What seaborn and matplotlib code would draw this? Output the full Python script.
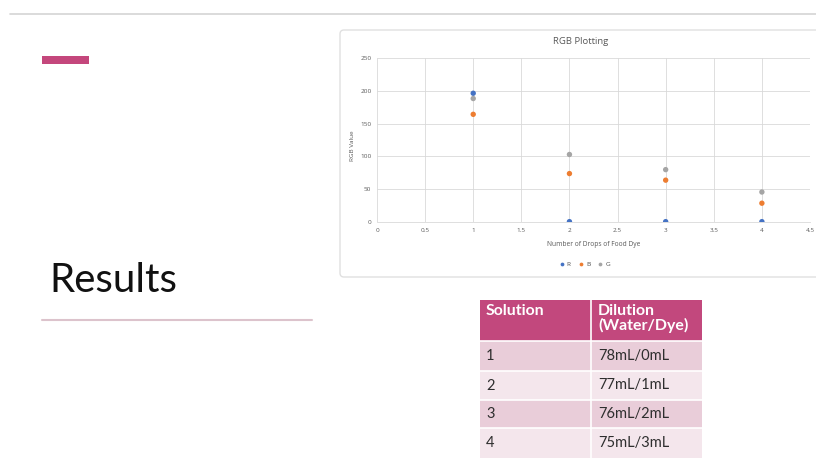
import matplotlib
matplotlib.use("Agg")
import matplotlib.pyplot as plt
from matplotlib.patches import Rectangle, FancyBboxPatch
import pandas as pd
import seaborn as sns

# Measurements: RGB channel values against drops of food dye
drops = [1, 2, 3, 4]
r_values = [196, 1, 1, 1]
b_values = [164, 74, 64, 29]
g_values = [188, 103, 80, 46]
series_names = ["R", "B", "G"]
series_colors = ["#4472C4", "#ED7D31", "#A5A5A5"]

x_ticks = [0, 0.5, 1, 1.5, 2, 2.5, 3, 3.5, 4, 4.5]
x_tick_labels = ["0", "0.5", "1", "1.5", "2", "2.5", "3", "3.5", "4", "4.5"]
y_ticks = [0, 50, 100, 150, 200, 250]

# Dilution table
table_header = ["Solution", "Dilution\n(Water/Dye)"]
solutions = ["1", "2", "3", "4"]
dilutions = ["78mL/0mL", "77mL/1mL", "76mL/2mL", "75mL/3mL"]

slide_title = "Results"
chart_title = "RGB Plotting"

sns.set_theme(style="white")
plt.rcParams["font.family"] = ["Lato", "DejaVu Sans"]

W, H = 816, 470
fig = plt.figure(figsize=(W / 100, H / 100), dpi=100)
fig.patch.set_facecolor("white")

# Slide background layer in pixel coordinates
bg = fig.add_axes([0, 0, 1, 1], zorder=0)
bg.set_xlim(0, W)
bg.set_ylim(H, 0)
bg.axis("off")

bg.plot([10, W], [13.5, 13.5], color="#D4D4D4", lw=1.2)
bg.add_patch(Rectangle((42, 55.5), 47, 8, color="#C4477C", lw=0))
bg.text(49, 292, slide_title, fontsize=29, color="#111111",
        family=["Lato", "DejaVu Sans"], va="baseline", ha="left")
bg.plot([42, 312], [319.5, 319.5], color="#DCC3CC", lw=1.5)

# Chart frame
bg.add_patch(FancyBboxPatch((340, 30), 490, 247, boxstyle="round,pad=0,rounding_size=4",
                            facecolor="white", edgecolor="#E0E0E0", lw=1.0))
bg.text(581, 41, chart_title, fontsize=6.8, color="#595959", ha="center", va="center",
        family=["Open Sans", "DejaVu Sans"])
bg.text(353, 146, "RGB Value", fontsize=4.6, color="#595959", ha="center", va="center",
        rotation=90, family=["Open Sans", "DejaVu Sans"])
bg.text(594, 244, "Number of Drops of Food Dye", fontsize=4.8, color="#595959",
        ha="center", va="center", family=["Open Sans", "DejaVu Sans"])

# Table
x0, x_mid, x1 = 480, 591, 702
row_edges = [300, 341, 371, 400, 428, 458]
header_color = "#C2487D"
row_colors = ["#E9CDD9", "#F4E6EC", "#E9CDD9", "#F4E6EC"]
bg.add_patch(Rectangle((x0, row_edges[0]), x1 - x0, row_edges[1] - row_edges[0],
                       color=header_color, lw=0))
bg.text(x0 + 6, row_edges[0] + 4, table_header[0], fontsize=11.4, color="white",
        fontweight="bold", va="top", ha="left")
bg.text(x_mid + 7, row_edges[0] + 4, table_header[1], fontsize=11.4, color="white",
        fontweight="bold", va="top", ha="left", linespacing=1.0)
for i, (sol, dil) in enumerate(zip(solutions, dilutions)):
    top, bot = row_edges[i + 1], row_edges[i + 2]
    bg.add_patch(Rectangle((x0, top), x1 - x0, bot - top, color=row_colors[i], lw=0))
    yc = (top + bot) / 2
    bg.text(x0 + 6, yc, sol, fontsize=10.5, color="#2E2E2E", va="center", ha="left")
    bg.text(x_mid + 7, yc, dil, fontsize=10.5, color="#2E2E2E", va="center", ha="left")
for e in row_edges[1:-1]:
    bg.plot([x0, x1], [e, e], color="white", lw=1.2)
bg.plot([x_mid, x_mid], [row_edges[0], row_edges[-1]], color="white", lw=1.2)

# Scatter chart
left, right, top, bottom = 377, 810, 57.7, 222.3
ax = fig.add_axes([left / W, 1 - bottom / H, (right - left) / W, (bottom - top) / H], zorder=2)
ax.patch.set_alpha(0)

df = pd.DataFrame({
    "drops": drops * 3,
    "value": r_values + b_values + g_values,
    "series": [s for s in series_names for _ in drops],
})
sns.scatterplot(data=df, x="drops", y="value", hue="series", hue_order=series_names,
                palette=series_colors, s=15, linewidth=0, ax=ax, legend=True, zorder=3)

ax.set_xlim(0, 4.5)
ax.set_ylim(0, 250)
ax.set_xticks(x_ticks)
ax.set_xticklabels(x_tick_labels)
ax.set_yticks(y_ticks)
ax.set_xlabel("")
ax.set_ylabel("")
ax.grid(True, color="#D9D9D9", lw=0.6)
for side in ["top", "right", "left"]:
    ax.spines[side].set_visible(False)
ax.spines["bottom"].set_color("#D9D9D9")
ax.spines["bottom"].set_linewidth(0.6)
ax.tick_params(axis="both", labelsize=4.6, labelcolor="#595959", length=0, pad=4)
for lbl in ax.get_xticklabels() + ax.get_yticklabels():
    lbl.set_family(["Open Sans", "DejaVu Sans"])

handles, labels = ax.get_legend_handles_labels()
ax.legend(handles, labels, loc="center", bbox_to_anchor=(0.475, -0.255), ncol=3,
          frameon=False, fontsize=4.6, markerscale=0.7, handletextpad=-0.2,
          columnspacing=0.6, labelcolor="#595959")

fig.savefig("out.png", dpi=100, facecolor="white")
